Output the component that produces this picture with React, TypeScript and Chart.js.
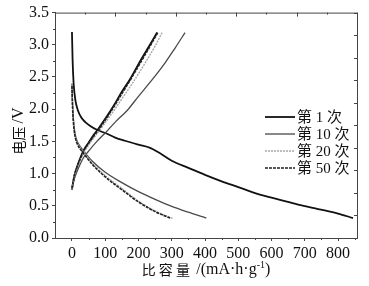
import React, { useEffect, useRef } from "react";
import { Chart, registerables } from "chart.js";

Chart.register(...registerables);

// ---- data (capacity mAh/g, voltage V) ----
const d1Cap = [0, 2, 5, 10, 18, 28, 40, 55, 75, 100, 130, 160, 200, 235, 260, 300, 350, 400, 450, 500, 560, 620, 680, 740, 800, 845];
const d1V = [3.2, 2.75, 2.4, 2.15, 1.98, 1.87, 1.8, 1.74, 1.68, 1.63, 1.56, 1.51, 1.45, 1.4, 1.33, 1.2, 1.09, 0.98, 0.88, 0.79, 0.68, 0.6, 0.52, 0.45, 0.38, 0.31];
const c1Cap = [0, 3, 8, 15, 25, 35, 50, 65, 80, 100, 125, 150, 175, 200, 225, 256];
const c1V = [0.75, 0.85, 0.98, 1.1, 1.24, 1.36, 1.48, 1.6, 1.7, 1.85, 2.05, 2.27, 2.47, 2.7, 2.92, 3.19];

const d10Cap = [0, 1, 3, 6, 10, 16, 25, 40, 60, 100, 150, 200, 250, 300, 350, 404];
const d10V = [2.4, 2.2, 1.95, 1.75, 1.6, 1.5, 1.42, 1.32, 1.2, 1.02, 0.86, 0.72, 0.6, 0.49, 0.4, 0.31];
const c10Cap = [0, 3, 8, 15, 25, 35, 50, 75, 100, 130, 166, 200, 240, 280, 310, 340];
const c10V = [0.75, 0.83, 0.93, 1.03, 1.15, 1.25, 1.35, 1.5, 1.63, 1.8, 1.98, 2.2, 2.45, 2.72, 2.95, 3.19];

const d20Cap = [0, 1, 3, 6, 10, 16, 25, 40, 60, 100, 150, 200, 250, 290, 304];
const d20V = [2.38, 2.18, 1.93, 1.73, 1.58, 1.48, 1.4, 1.3, 1.17, 0.97, 0.77, 0.57, 0.42, 0.33, 0.3];
const c20Cap = [0, 3, 8, 15, 25, 35, 50, 65, 80, 100, 125, 150, 175, 200, 225, 250, 271];
const c20V = [0.76, 0.85, 0.97, 1.08, 1.21, 1.32, 1.44, 1.55, 1.65, 1.79, 1.97, 2.16, 2.35, 2.55, 2.76, 2.98, 3.19];

const d50Cap = [0, 1, 3, 6, 10, 16, 25, 40, 60, 100, 150, 200, 250, 295];
const d50V = [2.36, 2.15, 1.9, 1.7, 1.56, 1.46, 1.38, 1.28, 1.15, 0.95, 0.75, 0.56, 0.41, 0.31];
const c50Cap = [0, 3, 8, 15, 25, 35, 50, 65, 80, 100, 125, 150, 175, 200, 225, 258];
const c50V = [0.77, 0.86, 0.99, 1.1, 1.23, 1.35, 1.47, 1.58, 1.68, 1.83, 2.03, 2.24, 2.45, 2.67, 2.89, 3.19];

const xTicks = [0, 100, 200, 300, 400, 500, 600, 700, 800];
const legendLabels = ["第 1 次", "第 10 次", "第 20 次", "第 50 次"];

const SERIF = "'Liberation Serif'";
const CJK = "'Noto Sans CJK SC'";

const styles = [
  { color: "#111111", width: 1.8, dash: [] as number[] },
  { color: "#4a4a4a", width: 1.3, dash: [] as number[] },
  { color: "#a8a8a8", width: 1.4, dash: [2, 1] },
  { color: "#222222", width: 1.6, dash: [3, 1] },
];

const pts = (xs: number[], ys: number[]) => xs.map((x, i) => ({ x, y: ys[i] }));

const series = [
  [pts(d1Cap, d1V), pts(c1Cap, c1V)],
  [pts(d10Cap, d10V), pts(c10Cap, c10V)],
  [pts(d20Cap, d20V), pts(c20Cap, c20V)],
  [pts(d50Cap, d50V), pts(c50Cap, c50V)],
];

const framePlugin = {
  id: "frame",
  afterDraw(chart: any) {
    const { ctx, chartArea: a, scales } = chart;
    const xs = scales.x;
    const ys = scales.y;
    ctx.save();
    ctx.strokeStyle = "#444";
    ctx.lineWidth = 1;
    ctx.beginPath();
    ctx.moveTo(a.left, a.top + 0.5);
    ctx.lineTo(a.right + 0.5, a.top + 0.5);
    ctx.lineTo(a.right + 0.5, a.bottom);
    ctx.stroke();
    for (let i = 0; i <= 10; i++) {
      const x = Math.round(a.left + ((a.right - a.left) * i) / 10) + 0.5;
      const len = i % 2 === 0 ? 4 : 2;
      ctx.beginPath();
      ctx.moveTo(x, a.top);
      ctx.lineTo(x, a.top + len);
      ctx.stroke();
    }
    for (let i = 0; i <= 10; i++) {
      const y = Math.round(a.top + ((a.bottom - a.top) * i) / 10) + 0.5;
      ctx.beginPath();
      ctx.moveTo(a.right, y);
      ctx.lineTo(a.right - 3, y);
      ctx.stroke();
    }
    for (let v = 50; v <= 850; v += 100) {
      const x = Math.round(xs.getPixelForValue(v)) + 0.5;
      ctx.beginPath();
      ctx.moveTo(x, a.bottom);
      ctx.lineTo(x, a.bottom + 2);
      ctx.stroke();
    }
    for (let v = 0.25; v < 3.5; v += 0.5) {
      const y = Math.round(ys.getPixelForValue(v)) + 0.5;
      ctx.beginPath();
      ctx.moveTo(a.left, y);
      ctx.lineTo(a.left - 2, y);
      ctx.stroke();
    }

    ctx.fillStyle = "#111";
    ctx.textBaseline = "middle";

    // legend
    const lx0 = 265;
    const lx1 = 295;
    const rows = [117, 134, 151, 168];
    legendLabels.forEach((lab, i) => {
      const s = styles[i];
      ctx.save();
      ctx.strokeStyle = s.color;
      ctx.lineWidth = s.width;
      ctx.setLineDash(s.dash);
      ctx.beginPath();
      ctx.moveTo(lx0, rows[i]);
      ctx.lineTo(lx1, rows[i]);
      ctx.stroke();
      ctx.restore();
      ctx.font = `15px ${SERIF}, ${CJK}`;
      ctx.textAlign = "left";
      ctx.fillText(lab, lx1 + 2, rows[i] + 1);
    });

    // x title
    const parts = [
      { t: "比 容 量  ", f: `14px ${CJK}`, dy: 0 },
      { t: "/(mA·h·g", f: `16px ${SERIF}`, dy: 0 },
      { t: "-1", f: `10px ${SERIF}`, dy: -5 },
      { t: ")", f: `16px ${SERIF}`, dy: 0 },
    ];
    let total = 0;
    parts.forEach((p) => {
      ctx.font = p.f;
      total += ctx.measureText(p.t).width;
    });
    let cx = (a.left + a.right) / 2 - total / 2;
    ctx.textAlign = "left";
    parts.forEach((p) => {
      ctx.font = p.f;
      ctx.fillText(p.t, cx, 270 + p.dy);
      cx += ctx.measureText(p.t).width;
    });

    // y title
    ctx.save();
    ctx.translate(19, 131);
    ctx.rotate(-Math.PI / 2);
    const yparts = [
      { t: "电压 ", f: `14px ${CJK}` },
      { t: "/V", f: `16px ${SERIF}` },
    ];
    let yt = 0;
    yparts.forEach((p) => {
      ctx.font = p.f;
      yt += ctx.measureText(p.t).width;
    });
    let yx = -yt / 2;
    yparts.forEach((p) => {
      ctx.font = p.f;
      ctx.fillText(p.t, yx, 0);
      yx += ctx.measureText(p.t).width;
    });
    ctx.restore();
    ctx.restore();
  },
};

export default function App() {
  const ref = useRef<HTMLCanvasElement | null>(null);

  useEffect(() => {
    if (!ref.current) return;
    let chart: any = null;
    let cancelled = false;
    const build = () => {
      if (cancelled || !ref.current) return;
      const datasets: any[] = [];
      series.forEach((pair, i) => {
        const s = styles[i];
        pair.forEach((data) => {
          datasets.push({
            data,
            borderColor: s.color,
            borderWidth: s.width,
            borderDash: s.dash,
            pointRadius: 0,
            cubicInterpolationMode: "monotone",
            fill: false,
          });
        });
      });
      datasets.reverse();

      chart = new Chart(ref.current, {
        type: "line",
        data: { datasets },
        plugins: [framePlugin],
        options: {
          responsive: false,
          animation: false,
          devicePixelRatio: 1,
          layout: { padding: { top: 12, right: 12, left: 0, bottom: 0 } },
          plugins: { legend: { display: false }, tooltip: { enabled: false } },
          scales: {
            x: {
              type: "linear",
              min: -51,
              max: 857,
              afterBuildTicks: (scale: any) => {
                scale.ticks = xTicks.map((v) => ({ value: v }));
              },
              afterFit: (scale: any) => {
                scale.height = 48;
              },
              ticks: {
                autoSkip: false,
                maxRotation: 0,
                padding: 3,
                color: "#111",
                font: { family: "'Liberation Serif'", size: 16 },
                callback: (v: any) => String(v),
              },
              grid: { drawOnChartArea: false, drawTicks: true, tickLength: 3, color: "#444" },
              border: { display: true, color: "#444", width: 1 },
            },
            y: {
              type: "linear",
              min: 0,
              max: 3.5,
              afterFit: (scale: any) => {
                scale.width = 55;
              },
              ticks: {
                stepSize: 0.5,
                padding: 3,
                color: "#111",
                font: { family: "'Liberation Serif'", size: 16 },
                callback: (v: any) => Number(v).toFixed(1),
              },
              grid: { drawOnChartArea: false, drawTicks: true, tickLength: 3, color: "#444" },
              border: { display: true, color: "#444", width: 1 },
            },
          },
        },
      });
    };
    const fontsApi: any = (document as any).fonts;
    if (fontsApi && fontsApi.load) {
      Promise.all([
        fontsApi.load("16px 'Liberation Serif'"),
        fontsApi.load("14px 'Noto Sans CJK SC'", "比容量电压第次"),
      ]).then(build, build);
    } else {
      build();
    }
    return () => {
      cancelled = true;
      if (chart) chart.destroy();
    };
  }, []);

  return (
    <div style={{ position: "absolute", left: 0, top: 0, width: 369, height: 286, background: "#fff" }}>
      <canvas ref={ref} width={369} height={286} />
    </div>
  );
}
